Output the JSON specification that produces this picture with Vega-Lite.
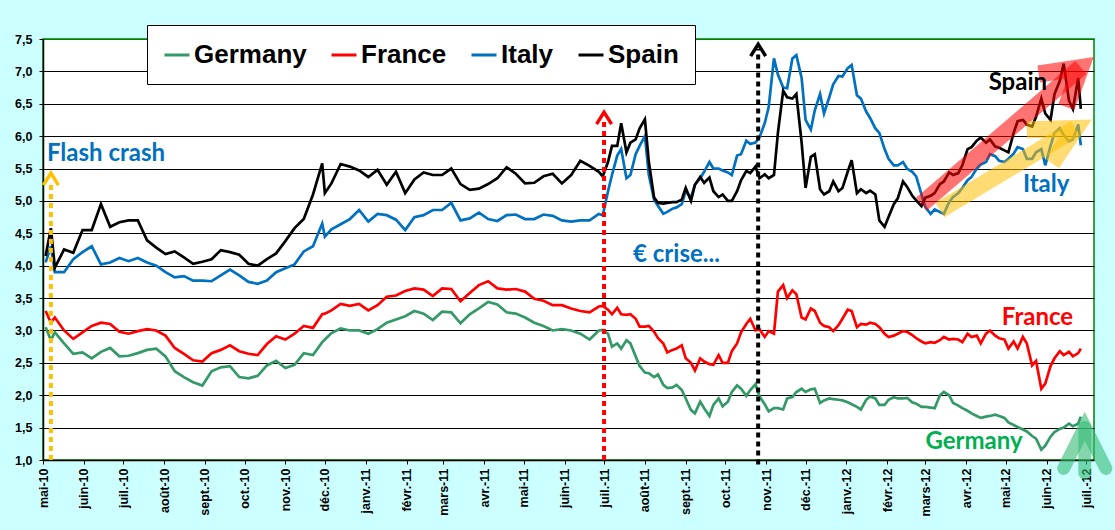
{
  "$schema": "https://vega.github.io/schema/vega-lite/v6.json",
  "width": 1051,
  "height": 421,
  "autosize": {"type": "none"},
  "padding": {"left": 43, "top": 39, "right": 21, "bottom": 70},
  "background": "#CCFFFF",
  "config": {"view": {"fill": "white", "stroke": "#008000", "strokeWidth": 1.5}, "font": "Liberation Sans"},
  "datasets": {
    "taux": [
      {"d": "2010-05-03", "Germany": 3.05, "France": 3.3, "Italy": 4.05, "Spain": 4.15},
      {"d": "2010-05-07", "Germany": 2.85, "France": 3.12, "Italy": 4.3, "Spain": 4.58},
      {"d": "2010-05-10", "Germany": 2.97, "France": 3.2, "Italy": 3.9, "Spain": 3.97},
      {"d": "2010-05-17", "Germany": 2.8, "France": 3.0, "Italy": 3.9, "Spain": 4.25},
      {"d": "2010-05-24", "Germany": 2.64, "France": 2.87, "Italy": 4.1, "Spain": 4.2},
      {"d": "2010-05-31", "Germany": 2.66, "France": 2.97, "Italy": 4.21, "Spain": 4.55},
      {"d": "2010-06-07", "Germany": 2.57, "France": 3.07, "Italy": 4.3, "Spain": 4.55},
      {"d": "2010-06-14", "Germany": 2.67, "France": 3.12, "Italy": 4.02, "Spain": 4.95},
      {"d": "2010-06-21", "Germany": 2.73, "France": 3.1, "Italy": 4.05, "Spain": 4.6},
      {"d": "2010-06-28", "Germany": 2.6, "France": 2.98, "Italy": 4.12, "Spain": 4.67},
      {"d": "2010-07-05", "Germany": 2.61, "France": 2.95, "Italy": 4.07, "Spain": 4.7},
      {"d": "2010-07-12", "Germany": 2.65, "France": 2.99, "Italy": 4.12, "Spain": 4.7},
      {"d": "2010-07-19", "Germany": 2.7, "France": 3.02, "Italy": 4.05, "Spain": 4.39},
      {"d": "2010-07-26", "Germany": 2.72, "France": 3.0, "Italy": 4.0, "Spain": 4.28},
      {"d": "2010-08-02", "Germany": 2.6, "France": 2.92, "Italy": 3.9, "Spain": 4.18},
      {"d": "2010-08-09", "Germany": 2.37, "France": 2.73, "Italy": 3.82, "Spain": 4.22},
      {"d": "2010-08-16", "Germany": 2.28, "France": 2.64, "Italy": 3.84, "Spain": 4.13},
      {"d": "2010-08-23", "Germany": 2.2, "France": 2.54, "Italy": 3.77, "Spain": 4.03},
      {"d": "2010-08-30", "Germany": 2.15, "France": 2.52, "Italy": 3.77, "Spain": 4.06},
      {"d": "2010-09-06", "Germany": 2.37, "France": 2.65, "Italy": 3.76, "Spain": 4.1},
      {"d": "2010-09-13", "Germany": 2.43, "France": 2.7, "Italy": 3.85, "Spain": 4.24},
      {"d": "2010-09-20", "Germany": 2.45, "France": 2.77, "Italy": 3.94, "Spain": 4.21},
      {"d": "2010-09-27", "Germany": 2.28, "France": 2.68, "Italy": 3.85, "Spain": 4.17},
      {"d": "2010-10-04", "Germany": 2.26, "France": 2.64, "Italy": 3.75, "Spain": 4.03},
      {"d": "2010-10-11", "Germany": 2.3, "France": 2.62, "Italy": 3.72, "Spain": 4.0},
      {"d": "2010-10-18", "Germany": 2.46, "France": 2.79, "Italy": 3.77, "Spain": 4.1},
      {"d": "2010-10-25", "Germany": 2.53, "France": 2.91, "Italy": 3.9, "Spain": 4.19},
      {"d": "2010-11-01", "Germany": 2.42, "France": 2.86, "Italy": 3.96, "Spain": 4.38},
      {"d": "2010-11-08", "Germany": 2.47, "France": 2.95, "Italy": 4.02, "Spain": 4.58},
      {"d": "2010-11-15", "Germany": 2.65, "France": 3.07, "Italy": 4.22, "Spain": 4.72},
      {"d": "2010-11-22", "Germany": 2.62, "France": 3.04, "Italy": 4.3, "Spain": 5.1},
      {"d": "2010-11-29", "Germany": 2.82, "France": 3.25, "Italy": 4.65, "Spain": 5.58},
      {"d": "2010-12-01", "Germany": 2.86, "France": 3.26, "Italy": 4.45, "Spain": 5.12},
      {"d": "2010-12-06", "Germany": 2.96, "France": 3.31, "Italy": 4.56, "Spain": 5.27},
      {"d": "2010-12-13", "Germany": 3.03, "France": 3.41, "Italy": 4.64, "Spain": 5.57},
      {"d": "2010-12-20", "Germany": 3.0, "France": 3.38, "Italy": 4.72, "Spain": 5.53},
      {"d": "2010-12-27", "Germany": 3.0, "France": 3.41, "Italy": 4.86, "Spain": 5.47},
      {"d": "2011-01-03", "Germany": 2.95, "France": 3.31, "Italy": 4.68, "Spain": 5.37},
      {"d": "2011-01-10", "Germany": 3.02, "France": 3.39, "Italy": 4.8, "Spain": 5.48},
      {"d": "2011-01-17", "Germany": 3.12, "France": 3.52, "Italy": 4.78, "Spain": 5.25},
      {"d": "2011-01-24", "Germany": 3.17, "France": 3.54, "Italy": 4.71, "Spain": 5.45},
      {"d": "2011-01-31", "Germany": 3.22, "France": 3.61, "Italy": 4.55, "Spain": 5.12},
      {"d": "2011-02-07", "Germany": 3.3, "France": 3.65, "Italy": 4.75, "Spain": 5.33},
      {"d": "2011-02-14", "Germany": 3.26, "France": 3.63, "Italy": 4.78, "Spain": 5.44},
      {"d": "2011-02-21", "Germany": 3.16, "France": 3.53, "Italy": 4.86, "Spain": 5.4},
      {"d": "2011-02-28", "Germany": 3.29, "France": 3.65, "Italy": 4.86, "Spain": 5.4},
      {"d": "2011-03-07", "Germany": 3.28, "France": 3.64, "Italy": 4.97, "Spain": 5.5},
      {"d": "2011-03-14", "Germany": 3.11, "France": 3.45, "Italy": 4.7, "Spain": 5.26},
      {"d": "2011-03-21", "Germany": 3.25, "France": 3.58, "Italy": 4.73, "Spain": 5.17},
      {"d": "2011-03-28", "Germany": 3.34, "France": 3.7, "Italy": 4.82, "Spain": 5.19},
      {"d": "2011-04-04", "Germany": 3.44, "France": 3.76, "Italy": 4.72, "Spain": 5.26},
      {"d": "2011-04-11", "Germany": 3.4, "France": 3.65, "Italy": 4.69, "Spain": 5.35},
      {"d": "2011-04-18", "Germany": 3.28, "France": 3.63, "Italy": 4.78, "Spain": 5.52},
      {"d": "2011-04-25", "Germany": 3.26, "France": 3.64, "Italy": 4.79, "Spain": 5.42},
      {"d": "2011-05-02", "Germany": 3.2, "France": 3.6, "Italy": 4.72, "Spain": 5.27},
      {"d": "2011-05-09", "Germany": 3.12, "France": 3.49, "Italy": 4.72, "Spain": 5.28},
      {"d": "2011-05-16", "Germany": 3.07, "France": 3.46, "Italy": 4.79, "Spain": 5.38},
      {"d": "2011-05-23", "Germany": 3.0, "France": 3.39, "Italy": 4.77, "Spain": 5.42},
      {"d": "2011-05-30", "Germany": 3.02, "France": 3.39, "Italy": 4.7, "Spain": 5.27},
      {"d": "2011-06-06", "Germany": 3.0, "France": 3.34, "Italy": 4.68, "Spain": 5.4},
      {"d": "2011-06-13", "Germany": 2.95, "France": 3.3, "Italy": 4.7, "Spain": 5.62},
      {"d": "2011-06-20", "Germany": 2.86, "France": 3.28, "Italy": 4.7, "Spain": 5.54},
      {"d": "2011-06-27", "Germany": 3.0, "France": 3.37, "Italy": 4.8, "Spain": 5.45},
      {"d": "2011-06-30", "Germany": 3.01, "France": 3.38, "Italy": 4.78, "Spain": 5.38},
      {"d": "2011-07-04", "Germany": 2.95, "France": 3.32, "Italy": 5.15, "Spain": 5.6},
      {"d": "2011-07-07", "Germany": 2.75, "France": 3.25, "Italy": 5.4, "Spain": 5.85},
      {"d": "2011-07-11", "Germany": 2.8, "France": 3.35, "Italy": 5.7, "Spain": 5.85},
      {"d": "2011-07-14", "Germany": 2.72, "France": 3.25, "Italy": 5.8, "Spain": 6.2},
      {"d": "2011-07-18", "Germany": 2.85, "France": 3.24, "Italy": 5.35, "Spain": 5.75},
      {"d": "2011-07-21", "Germany": 2.8, "France": 3.25, "Italy": 5.4, "Spain": 5.9},
      {"d": "2011-07-25", "Germany": 2.6, "France": 3.18, "Italy": 5.72, "Spain": 5.95},
      {"d": "2011-07-28", "Germany": 2.45, "France": 3.06, "Italy": 5.85, "Spain": 6.12},
      {"d": "2011-08-01", "Germany": 2.35, "France": 3.06, "Italy": 6.0, "Spain": 6.26},
      {"d": "2011-08-04", "Germany": 2.34, "France": 3.07, "Italy": 5.4, "Spain": 5.6},
      {"d": "2011-08-08", "Germany": 2.28, "France": 2.98, "Italy": 5.02, "Spain": 5.05},
      {"d": "2011-08-11", "Germany": 2.32, "France": 2.88, "Italy": 4.92, "Spain": 4.97},
      {"d": "2011-08-15", "Germany": 2.16, "France": 2.8, "Italy": 4.8, "Spain": 4.96},
      {"d": "2011-08-18", "Germany": 2.11, "France": 2.66, "Italy": 4.83, "Spain": 4.97},
      {"d": "2011-08-22", "Germany": 2.12, "France": 2.7, "Italy": 4.88, "Spain": 4.98},
      {"d": "2011-08-25", "Germany": 2.16, "France": 2.72, "Italy": 4.9, "Spain": 4.98},
      {"d": "2011-08-29", "Germany": 2.08, "France": 2.77, "Italy": 4.95, "Spain": 5.02},
      {"d": "2011-09-01", "Germany": 1.95, "France": 2.57, "Italy": 5.15, "Spain": 5.2},
      {"d": "2011-09-05", "Germany": 1.77, "France": 2.5, "Italy": 5.05, "Spain": 5.0},
      {"d": "2011-09-08", "Germany": 1.72, "France": 2.38, "Italy": 5.25, "Spain": 5.25},
      {"d": "2011-09-12", "Germany": 1.9, "France": 2.57, "Italy": 5.35, "Spain": 5.37},
      {"d": "2011-09-15", "Germany": 1.8, "France": 2.52, "Italy": 5.45, "Spain": 5.28},
      {"d": "2011-09-19", "Germany": 1.68, "France": 2.48, "Italy": 5.6, "Spain": 5.36},
      {"d": "2011-09-22", "Germany": 1.85, "France": 2.47, "Italy": 5.5, "Spain": 5.15},
      {"d": "2011-09-26", "Germany": 1.95, "France": 2.62, "Italy": 5.5, "Spain": 5.06},
      {"d": "2011-09-29", "Germany": 1.83, "France": 2.5, "Italy": 5.47, "Spain": 5.1},
      {"d": "2011-10-03", "Germany": 1.9, "France": 2.5, "Italy": 5.44, "Spain": 5.0},
      {"d": "2011-10-06", "Germany": 2.05, "France": 2.68, "Italy": 5.4, "Spain": 5.0},
      {"d": "2011-10-10", "Germany": 2.15, "France": 2.8, "Italy": 5.7, "Spain": 5.15},
      {"d": "2011-10-13", "Germany": 2.1, "France": 2.97, "Italy": 5.72, "Spain": 5.32},
      {"d": "2011-10-17", "Germany": 1.99, "France": 3.1, "Italy": 5.93, "Spain": 5.46},
      {"d": "2011-10-20", "Germany": 2.08, "France": 3.18, "Italy": 5.88, "Spain": 5.43},
      {"d": "2011-10-24", "Germany": 2.17, "France": 3.0, "Italy": 5.9, "Spain": 5.53},
      {"d": "2011-10-27", "Germany": 1.98, "France": 3.02, "Italy": 5.98, "Spain": 5.35},
      {"d": "2011-10-31", "Germany": 1.86, "France": 2.9, "Italy": 6.2, "Spain": 5.41},
      {"d": "2011-11-03", "Germany": 1.75, "France": 2.99, "Italy": 6.45, "Spain": 5.35},
      {"d": "2011-11-07", "Germany": 1.8, "France": 2.95, "Italy": 7.2, "Spain": 5.4},
      {"d": "2011-11-10", "Germany": 1.8, "France": 3.6, "Italy": 6.95, "Spain": 6.05},
      {"d": "2011-11-14", "Germany": 1.78, "France": 3.7, "Italy": 6.75, "Spain": 6.7},
      {"d": "2011-11-17", "Germany": 1.95, "France": 3.5, "Italy": 6.74, "Spain": 6.6},
      {"d": "2011-11-21", "Germany": 1.97, "France": 3.62, "Italy": 7.2, "Spain": 6.58},
      {"d": "2011-11-24", "Germany": 2.05, "France": 3.56, "Italy": 7.25, "Spain": 6.65},
      {"d": "2011-11-28", "Germany": 2.1, "France": 3.2, "Italy": 6.9, "Spain": 5.9},
      {"d": "2011-12-01", "Germany": 2.05, "France": 3.17, "Italy": 6.25, "Spain": 5.2},
      {"d": "2011-12-05", "Germany": 2.09, "France": 3.34, "Italy": 6.1, "Spain": 5.68},
      {"d": "2011-12-08", "Germany": 2.1, "France": 3.3, "Italy": 6.4, "Spain": 5.72},
      {"d": "2011-12-12", "Germany": 1.88, "France": 3.12, "Italy": 6.65, "Spain": 5.18},
      {"d": "2011-12-15", "Germany": 1.92, "France": 3.07, "Italy": 6.35, "Spain": 5.1},
      {"d": "2011-12-19", "Germany": 1.95, "France": 3.05, "Italy": 6.6, "Spain": 5.15},
      {"d": "2011-12-22", "Germany": 1.94, "France": 2.99, "Italy": 6.8, "Spain": 5.3},
      {"d": "2011-12-26", "Germany": 1.93, "France": 3.08, "Italy": 6.93, "Spain": 5.15},
      {"d": "2011-12-29", "Germany": 1.92, "France": 3.18, "Italy": 6.92, "Spain": 5.2},
      {"d": "2012-01-02", "Germany": 1.89, "France": 3.32, "Italy": 7.05, "Spain": 5.45},
      {"d": "2012-01-05", "Germany": 1.86, "France": 3.3, "Italy": 7.1, "Spain": 5.63},
      {"d": "2012-01-09", "Germany": 1.82, "France": 3.05, "Italy": 6.63, "Spain": 5.12},
      {"d": "2012-01-12", "Germany": 1.78, "France": 3.1, "Italy": 6.58, "Spain": 5.18},
      {"d": "2012-01-16", "Germany": 1.93, "France": 3.09, "Italy": 6.38, "Spain": 5.12},
      {"d": "2012-01-19", "Germany": 1.98, "France": 3.12, "Italy": 6.28, "Spain": 5.16},
      {"d": "2012-01-23", "Germany": 1.95, "France": 3.1, "Italy": 6.12, "Spain": 5.1},
      {"d": "2012-01-26", "Germany": 1.85, "France": 3.05, "Italy": 6.05, "Spain": 4.7},
      {"d": "2012-01-30", "Germany": 1.85, "France": 2.95, "Italy": 5.8, "Spain": 4.6},
      {"d": "2012-02-02", "Germany": 1.93, "France": 2.9, "Italy": 5.65, "Spain": 4.75},
      {"d": "2012-02-06", "Germany": 1.97, "France": 2.92, "Italy": 5.55, "Spain": 4.95},
      {"d": "2012-02-09", "Germany": 1.95, "France": 2.95, "Italy": 5.55, "Spain": 5.04},
      {"d": "2012-02-13", "Germany": 1.95, "France": 2.99, "Italy": 5.6, "Spain": 5.3},
      {"d": "2012-02-16", "Germany": 1.96, "France": 2.98, "Italy": 5.5, "Spain": 5.22},
      {"d": "2012-02-20", "Germany": 1.89, "France": 2.93, "Italy": 5.45, "Spain": 5.08},
      {"d": "2012-02-23", "Germany": 1.87, "France": 2.88, "Italy": 5.38, "Spain": 5.01},
      {"d": "2012-02-27", "Germany": 1.82, "France": 2.83, "Italy": 5.1, "Spain": 4.92},
      {"d": "2012-03-01", "Germany": 1.82, "France": 2.8, "Italy": 4.9, "Spain": 5.05},
      {"d": "2012-03-05", "Germany": 1.81, "France": 2.82, "Italy": 4.8, "Spain": 5.08},
      {"d": "2012-03-08", "Germany": 1.8, "France": 2.81, "Italy": 4.87, "Spain": 5.12},
      {"d": "2012-03-12", "Germany": 2.0, "France": 2.85, "Italy": 4.83, "Spain": 5.26},
      {"d": "2012-03-15", "Germany": 2.05, "France": 2.9, "Italy": 4.8, "Spain": 5.3},
      {"d": "2012-03-19", "Germany": 2.0, "France": 2.86, "Italy": 4.98, "Spain": 5.44},
      {"d": "2012-03-22", "Germany": 1.88, "France": 2.87, "Italy": 5.06, "Spain": 5.4},
      {"d": "2012-03-26", "Germany": 1.84, "France": 2.86, "Italy": 5.12, "Spain": 5.43},
      {"d": "2012-03-29", "Germany": 1.8, "France": 2.82, "Italy": 5.2, "Spain": 5.55},
      {"d": "2012-04-02", "Germany": 1.76, "France": 2.95, "Italy": 5.32, "Spain": 5.8},
      {"d": "2012-04-05", "Germany": 1.72, "France": 2.9, "Italy": 5.37, "Spain": 5.83},
      {"d": "2012-04-09", "Germany": 1.68, "France": 2.92, "Italy": 5.5, "Spain": 5.93},
      {"d": "2012-04-12", "Germany": 1.65, "France": 2.8, "Italy": 5.56, "Spain": 5.98},
      {"d": "2012-04-16", "Germany": 1.67, "France": 2.95, "Italy": 5.6, "Spain": 5.9},
      {"d": "2012-04-19", "Germany": 1.68, "France": 3.0, "Italy": 5.72, "Spain": 5.95},
      {"d": "2012-04-23", "Germany": 1.7, "France": 2.92, "Italy": 5.69, "Spain": 5.84},
      {"d": "2012-04-26", "Germany": 1.68, "France": 2.88, "Italy": 5.62, "Spain": 5.82},
      {"d": "2012-04-30", "Germany": 1.65, "France": 2.86, "Italy": 5.6, "Spain": 5.78},
      {"d": "2012-05-03", "Germany": 1.58, "France": 2.72, "Italy": 5.65, "Spain": 5.75},
      {"d": "2012-05-07", "Germany": 1.54, "France": 2.83, "Italy": 5.73, "Spain": 6.05},
      {"d": "2012-05-10", "Germany": 1.51, "France": 2.72, "Italy": 5.83, "Spain": 6.23},
      {"d": "2012-05-14", "Germany": 1.47, "France": 2.9, "Italy": 5.8, "Spain": 6.25},
      {"d": "2012-05-17", "Germany": 1.44, "France": 2.8, "Italy": 5.65, "Spain": 6.18},
      {"d": "2012-05-21", "Germany": 1.37, "France": 2.46, "Italy": 5.65, "Spain": 6.15},
      {"d": "2012-05-24", "Germany": 1.33, "France": 2.53, "Italy": 5.75, "Spain": 6.3},
      {"d": "2012-05-28", "Germany": 1.16, "France": 2.1, "Italy": 5.8, "Spain": 6.58},
      {"d": "2012-05-31", "Germany": 1.22, "France": 2.18, "Italy": 5.55, "Spain": 6.35},
      {"d": "2012-06-04", "Germany": 1.36, "France": 2.45, "Italy": 5.85, "Spain": 6.25},
      {"d": "2012-06-07", "Germany": 1.43, "France": 2.57, "Italy": 6.05, "Spain": 6.65},
      {"d": "2012-06-11", "Germany": 1.48, "France": 2.68, "Italy": 6.12, "Spain": 6.85},
      {"d": "2012-06-14", "Germany": 1.5, "France": 2.62, "Italy": 6.02, "Spain": 7.12},
      {"d": "2012-06-18", "Germany": 1.56, "France": 2.67, "Italy": 5.92, "Spain": 6.55},
      {"d": "2012-06-21", "Germany": 1.52, "France": 2.6, "Italy": 5.95, "Spain": 6.42},
      {"d": "2012-06-25", "Germany": 1.56, "France": 2.65, "Italy": 6.18, "Spain": 6.9},
      {"d": "2012-06-27", "Germany": 1.67, "France": 2.72, "Italy": 5.86, "Spain": 6.42}
    ],
    "reperes": [
      {"ev": "flash", "d": "2010-05-07", "v": 1.0, "hi": 5.3},
      {"ev": "juil", "d": "2011-07-01", "v": 1.0, "hi": 6.25},
      {"ev": "nov", "d": "2011-10-26", "v": 0.93, "hi": 7.35}
    ],
    "pointes": [
      {"ev": "flash", "d": "2010-05-07", "v": 5.43},
      {"ev": "juil", "d": "2011-07-01", "v": 6.37},
      {"ev": "nov", "d": "2011-10-26", "v": 7.42}
    ],
    "fleches": [
      {"f": "rouge", "seg": "r1", "o": 1, "d": "2012-02-27", "v": 4.95},
      {"f": "rouge", "seg": "r1", "o": 2, "d": "2012-06-27", "v": 7.06},
      {"f": "rouge", "seg": "r2", "o": 1, "d": "2012-05-26", "v": 6.96},
      {"f": "rouge", "seg": "r2", "o": 2, "d": "2012-06-27", "v": 7.06},
      {"f": "rouge", "seg": "r2", "o": 3, "d": "2012-06-16", "v": 6.45},
      {"f": "jaune", "seg": "j1", "o": 1, "d": "2012-03-12", "v": 4.86},
      {"f": "jaune", "seg": "j1", "o": 2, "d": "2012-06-23", "v": 6.12},
      {"f": "jaune", "seg": "j2", "o": 1, "d": "2012-05-17", "v": 6.1},
      {"f": "jaune", "seg": "j2", "o": 2, "d": "2012-06-23", "v": 6.12},
      {"f": "jaune", "seg": "j2", "o": 3, "d": "2012-06-05", "v": 5.58}
    ],
    "fleche_verte": [
      {"f": "vert", "seg": "v1", "o": 1, "d": "2012-06-30", "v": 1.5},
      {"f": "vert", "seg": "v1", "o": 2, "d": "2012-06-30", "v": 0.8},
      {"f": "vert", "seg": "v2", "o": 1, "d": "2012-06-14", "v": 0.87},
      {"f": "vert", "seg": "v2", "o": 2, "d": "2012-06-30", "v": 1.52},
      {"f": "vert", "seg": "v2", "o": 3, "d": "2012-07-16", "v": 0.87}
    ]
  },
  "encoding": {
    "x": {
      "field": "d", "type": "temporal", "title": null,
      "scale": {"domain": [{"year": 2010, "month": 5, "date": 1}, {"year": 2012, "month": 7, "date": 7}]},
      "axis": {
        "tickCount": {"interval": "month", "step": 1},
        "labelExpr": "['janv.','févr.','mars','avr.','mai','juin','juil.','août','sept.','oct.','nov.','déc.'][month(datum.value)] + '-' + timeFormat(datum.value, '%y')",
        "labelAngle": 270, "labelFont": "Liberation Sans", "labelFontSize": 12.5, "labelFontWeight": "bold",
        "labelColor": "black", "labelFlush": false, "labelOverlap": false, "labelPadding": 4,
        "tickColor": "black", "tickSize": 4, "domainColor": "black", "domainWidth": 1.5, "grid": false
      }
    },
    "y": {
      "field": "v", "type": "quantitative", "title": null,
      "scale": {"domain": [1, 7.5], "nice": false, "zero": false},
      "axis": {
        "values": [1, 1.5, 2, 2.5, 3, 3.5, 4, 4.5, 5, 5.5, 6, 6.5, 7, 7.5],
        "labelExpr": "replace(format(datum.value, '.1f'), '.', ',')",
        "labelFont": "Liberation Sans", "labelFontSize": 12.5, "labelFontWeight": "bold", "labelColor": "black",
        "labelOverlap": false, "labelPadding": 7, "tickColor": "black", "tickSize": 4,
        "domainColor": "black", "domainWidth": 1.5,
        "grid": true, "gridWidth": 1, "gridOpacity": 1,
        "gridColor": {"condition": {"test": "datum.value >= 7.5", "value": "#008000"}, "value": "black"}
      }
    }
  },
  "layer": [
    {
      "data": {"name": "taux"},
      "transform": [{"fold": ["Germany", "France", "Italy", "Spain"], "as": ["pays", "v"]}],
      "mark": {"type": "line", "strokeWidth": 2.7},
      "encoding": {
        "color": {
          "field": "pays", "type": "nominal",
          "scale": {"domain": ["Germany", "France", "Italy", "Spain"], "range": ["#339966", "#FF0000", "#0070C0", "#000000"]},
          "legend": {
            "title": null, "orient": "none", "legendX": 104, "legendY": -14, "direction": "horizontal",
            "symbolType": "stroke", "symbolSize": 625, "symbolStrokeWidth": 3,
            "labelFont": "Liberation Sans", "labelFontSize": 26, "labelFontWeight": "bold", "labelColor": "black",
            "labelLimit": 0, "labelOffset": 3, "columnPadding": 18, "padding": 16,
            "fillColor": "white", "strokeColor": "black"
          }
        }
      }
    },
    {
      "data": {"name": "reperes"},
      "mark": {"type": "rule", "strokeWidth": 4, "strokeDash": [5, 4]},
      "encoding": {
        "y2": {"field": "hi"},
        "stroke": {
          "field": "ev", "type": "nominal", "legend": null,
          "scale": {"domain": ["flash", "juil", "nov", "rouge", "jaune", "vert"], "range": ["#FFC000", "#FF0000", "#000000", "#FF0000", "#FFC000", "#33BB77"]}
        }
      }
    },
    {
      "data": {"name": "pointes"},
      "mark": {"type": "point", "shape": "M-1,1.6L0,0L1,1.6", "size": 225, "filled": false, "strokeWidth": 3.5, "opacity": 1},
      "encoding": {
        "stroke": {"field": "ev", "type": "nominal", "legend": null}
      }
    },
    {
      "data": {"name": "fleches"},
      "mark": {"type": "line", "strokeWidth": 17, "strokeCap": "butt", "strokeJoin": "miter", "strokeMiterLimit": 10, "opacity": 0.55},
      "encoding": {
        "stroke": {"field": "f", "type": "nominal", "legend": null},
        "detail": {"field": "seg"},
        "order": {"field": "o", "type": "quantitative"}
      }
    },
    {
      "data": {"name": "fleche_verte"},
      "mark": {"type": "line", "strokeWidth": 13, "strokeCap": "round", "strokeJoin": "miter", "strokeMiterLimit": 10, "opacity": 0.6},
      "encoding": {
        "stroke": {"field": "f", "type": "nominal", "legend": null},
        "detail": {"field": "seg"},
        "order": {"field": "o", "type": "quantitative"}
      }
    },
    {
      "data": {"values": [
        {"t": "Flash crash", "d": "2010-05-04", "v": 5.72},
        {"t": "€ crise...", "d": "2011-07-23", "v": 4.16},
        {"t": "Italy", "d": "2012-05-14", "v": 5.24}
      ]},
      "mark": {"type": "text", "font": "Lato", "fontSize": 24, "fontWeight": "bold", "align": "left", "baseline": "middle", "color": "#0070C0"},
      "encoding": {"text": {"field": "t"}}
    },
    {
      "data": {"values": [{"t": "Spain", "d": "2012-04-18", "v": 6.82}]},
      "mark": {"type": "text", "font": "Lato", "fontSize": 24, "fontWeight": "bold", "align": "left", "baseline": "middle", "color": "#000000"},
      "encoding": {"text": {"field": "t"}}
    },
    {
      "data": {"values": [{"t": "France", "d": "2012-04-28", "v": 3.19}]},
      "mark": {"type": "text", "font": "Lato", "fontSize": 24, "fontWeight": "bold", "align": "left", "baseline": "middle", "color": "#FF0000"},
      "encoding": {"text": {"field": "t"}}
    },
    {
      "data": {"values": [{"t": "Germany", "d": "2012-03-01", "v": 1.28}]},
      "mark": {"type": "text", "font": "Lato", "fontSize": 24, "fontWeight": "bold", "align": "left", "baseline": "middle", "color": "#00B050"},
      "encoding": {"text": {"field": "t"}}
    }
  ]
}
